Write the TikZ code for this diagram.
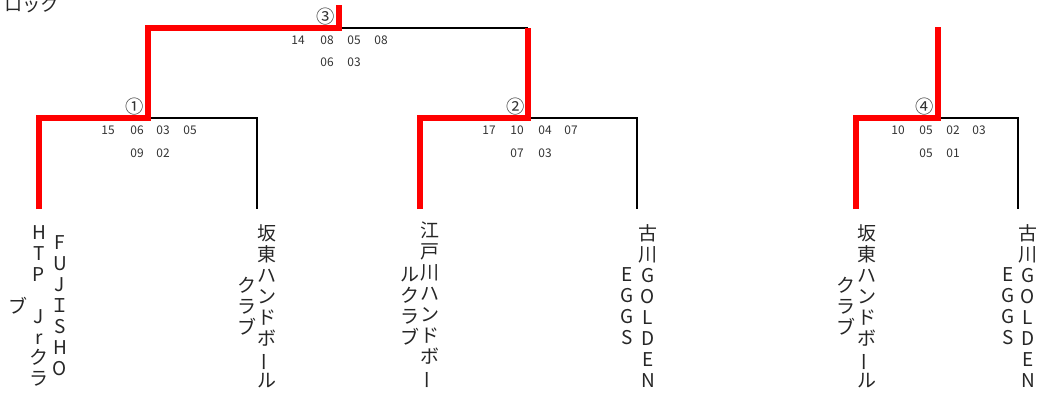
\documentclass[tikz,border=0pt]{standalone}
\usepackage{fontspec}
\setmainfont{Noto Sans CJK JP}
\usetikzlibrary{positioning}
\tikzset{
	win/.style={red, line width=4.2pt},
	lose/.style={black, line width=1.4pt},
	team/.style={align=center, inner sep=0pt, font=\fontsize{13.5}{14.9}\selectfont, text=black!85},
	score/.style={inner sep=0pt, font=\fontsize{8.5}{10}\selectfont, text=black!80},
	rnd/.style={inner sep=0pt, font=\fontsize{13}{14}\selectfont, text=black!80}
}
\newcommand{\nobi}{\rotatebox[origin=c]{90}{ー}}
\begin{document}
\begin{tikzpicture}[x=0.025cm, y=-0.025cm]
		\useasboundingbox (0,0) rectangle (1039,397);
		\node[anchor=base west, font=\fontsize{13}{15}\selectfont, text=black!85, inner sep=0pt] (blk) at (4,11) {ロック};
		
		% team ends and joints
		\coordinate (e1) at (39,209);
		\coordinate (e2) at (257,209);
		\coordinate (e3) at (420,209);
		\coordinate (e4) at (637,209);
		\coordinate (e5) at (856,209);
		\coordinate (e6) at (1018,209);
		\coordinate (m1) at (148,118);
		\coordinate (m2) at (528,118);
		\coordinate (m3) at (339,28);
		\coordinate (m4) at (938,118);
		\coordinate (w3) at (339,5);
		\coordinate (w4) at (938,27);
		
		\draw[lose] (m1) -| (e2);
		\draw[lose] (m2) -| (e4);
		\draw[lose] (m3) -- (m3 -| m2);
		\draw[lose] (m4) -| (e6);
		\draw[win] (e1) |- (m1) -- (m1 |- m3) -- (m3) -- (w3);
		\draw[win] (e3) |- (m2) -- (m2 |- m3);
		\draw[win] (e5) |- (m4) -- (w4);
		
		% round numbers
		\node[rnd] (r1) at (135,107) {①};
		\node[rnd] (r2) at (516,107) {②};
		\node[rnd] (r3) at (326,17) {③};
		\node[rnd] (r4) at (925,107) {④};
		
		% scores
		\foreach \s/\x in {15/108,06/137,03/163,05/190} \node[score] (a\x) at (\x,130) {\s};
		\foreach \s/\x in {09/137,02/163} \node[score] (b\x) at (\x,153) {\s};
		\foreach \s/\x in {17/489,10/517,04/545,07/571} \node[score] (c\x) at (\x,130) {\s};
		\foreach \s/\x in {07/517,03/545} \node[score] (d\x) at (\x,153) {\s};
		\foreach \s/\x in {14/298,08/327,05/354,08/381} \node[score] (f\x) at (\x,40) {\s};
		\foreach \s/\x in {06/327,03/354} \node[score] (g\x) at (\x,62) {\s};
		\foreach \s/\x in {10/898,05/926,02/953,03/979} \node[score] (h\x) at (\x,130) {\s};
		\foreach \s/\x in {05/926,01/953} \node[score] (k\x) at (\x,153) {\s};
		
		% teams, written top to bottom
		\node[team] (t1a) at (60,306) {F\\U\\J\\Ｉ\\S\\H\\O};
		\node[team] (t1b) at (39,306) {H\\T\\P\\\mbox{}\\J\\r\\ク\\ラ};
		\node[team] (t1c) at (18,306) {ブ};
		\node[team] (t2a) at (267,306) {坂\\東\\ハ\\ン\\ド\\ボ\\\nobi\\ル};
		\node[team] (t2b) at (247,306) {ク\\ラ\\ブ};
		\node[team] (t3a) at (430,306) {江\\戸\\川\\ハ\\ン\\ド\\ボ\\\nobi};
		\node[team] (t3b) at (410,306) {ル\\ク\\ラ\\ブ};
		\node[team] (t4a) at (648,306) {古\\川\\G\\O\\L\\D\\E\\N};
		\node[team] (t4b) at (627,306) {E\\G\\G\\S};
		\node[team] (t5a) at (867,306) {坂\\東\\ハ\\ン\\ド\\ボ\\\nobi\\ル};
		\node[team] (t5b) at (846,306) {ク\\ラ\\ブ};
		\node[team] (t6a) at (1028,306) {古\\川\\G\\O\\L\\D\\E\\N};
		\node[team] (t6b) at (1008,306) {E\\G\\G\\S};
\end{tikzpicture}
\end{document}
